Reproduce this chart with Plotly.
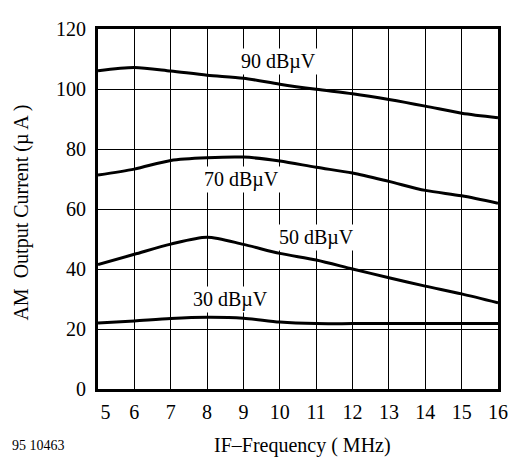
import plotly.graph_objects as go

freq = [5, 6, 7, 8, 9, 10, 11, 12, 13, 14, 15, 16]
i90 = [106.1, 107.2, 106.0, 104.6, 103.6, 101.6, 99.9, 98.4, 96.5, 94.3, 91.9, 90.4]
i70 = [71.3, 73.3, 76.2, 77.1, 77.3, 76.0, 73.9, 72.0, 69.2, 66.2, 64.4, 61.9]
i50 = [41.5, 44.9, 48.3, 50.6, 48.2, 45.2, 43.0, 40.0, 37.1, 34.3, 31.7, 28.7]
i30 = [22.0, 22.7, 23.5, 23.9, 23.6, 22.3, 21.8, 21.8, 21.8, 21.8, 21.8, 21.8]

series = [("90 dBµV", i90), ("70 dBµV", i70), ("50 dBµV", i50), ("30 dBµV", i30)]
label_x = [9.97, 8.95, 11.0, 8.63]
label_y = [109.3, 70.0, 50.6, 29.8]

x_ticks = list(range(5, 17))
x_labels = ["\u00a0\u00a0\u00a05"] + [str(v) for v in x_ticks[1:]]
y_ticks = [0, 20, 40, 60, 80, 100, 120]

FONT = "Liberation Serif, Times New Roman, serif"

fig = go.Figure()
for name, vals in series:
    fig.add_trace(go.Scatter(x=freq, y=vals, mode="lines", name=name,
                             line=dict(color="black", width=3, shape="spline", smoothing=0.8),
                             showlegend=False, hoverinfo="skip"))

for (name, _), lx, ly in zip(series, label_x, label_y):
    fig.add_annotation(x=lx, y=ly, text=name, showarrow=False,
                       font=dict(family=FONT, size=20, color="black"),
                       bgcolor="white", borderpad=1)

fig.add_annotation(xref="paper", yref="paper", x=0.51, y=-0.157, yanchor="middle",
                   text="IF–Frequency ( MHz)", showarrow=False,
                   font=dict(family=FONT, size=20, color="black"))
fig.add_annotation(xref="paper", yref="paper", x=-0.19, y=0.49, xanchor="center",
                   yanchor="middle", textangle=-90,
                   text="AM  Output Current (µ A )", showarrow=False,
                   font=dict(family=FONT, size=20, color="black"))
fig.add_annotation(xref="paper", yref="paper", x=-0.149, y=-0.157, xanchor="center",
                   yanchor="middle", text="95 10463", showarrow=False,
                   font=dict(family=FONT, size=14, color="black"))

fig.update_layout(
    width=510, height=451,
    margin=dict(l=90, r=10, t=11, b=70),
    plot_bgcolor="white", paper_bgcolor="white",
    font=dict(family=FONT, size=19, color="black"),
)
fig.update_xaxes(range=[5, 16], tickvals=x_ticks, ticktext=x_labels,
                 showgrid=True, gridcolor="black", gridwidth=1,
                 showline=True, linecolor="black", linewidth=3, mirror=True,
                 ticks="", ticklabelstandoff=3, zeroline=False,
                 tickfont=dict(family=FONT, size=20))
fig.update_yaxes(range=[0, 120], tickvals=y_ticks, ticktext=[str(v) for v in y_ticks],
                 showgrid=True, gridcolor="black", gridwidth=1,
                 showline=True, linecolor="black", linewidth=3, mirror=True,
                 ticks="", ticklabelstandoff=5, zeroline=False,
                 tickfont=dict(family=FONT, size=20))

fig.write_html("out.html")
